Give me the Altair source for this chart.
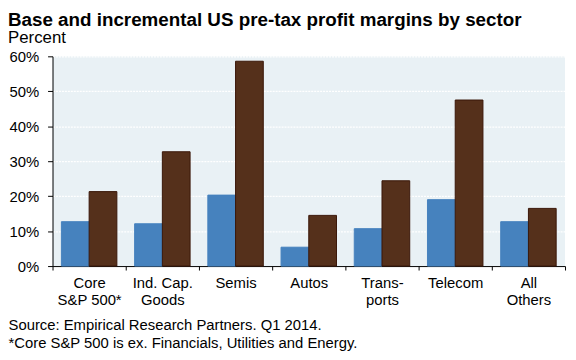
import altair as alt
import pandas as pd

categories = ["Core|S&P 500*", "Ind. Cap.|Goods", "Semis", "Autos", "Trans-|ports", "Telecom", "All|Others"]
base = [12.7, 12.1, 20.3, 5.4, 10.7, 19.0, 12.7]
incremental = [21.3, 32.7, 58.6, 14.5, 24.4, 47.5, 16.5]
series = ["Base", "Incremental"]
colors = ["#4682BE", "#55301B"]
strokes = ["#4682BE", "#3A1608"]

rows = []
for c, b, i in zip(categories, base, incremental):
    rows.append({"cat": c, "series": "Base", "value": b})
    rows.append({"cat": c, "series": "Incremental", "value": i})
df = pd.DataFrame(rows)

chart = alt.Chart(df).mark_bar(strokeWidth=1).encode(
    x=alt.X("cat:N", sort=categories,
            scale=alt.Scale(paddingInner=0, paddingOuter=0),
            axis=alt.Axis(
                title=["Source: Empirical Research Partners. Q1 2014.",
                       "*Core S&P 500 is ex. Financials, Utilities and Energy."],
                titleAnchor="start", titleAlign="left", titleX=-45, titleY=64,
                titleFont="Liberation Sans", titleFontSize=15, titleFontWeight="normal",
                titleColor="#000000", titleBaseline="alphabetic", titleLineHeight=18,
                labelExpr="split(datum.label, '|')", labelAngle=0,
                labelFont="Liberation Sans", labelFontSize=15, labelColor="#000000",
                labelPadding=6, labelLineHeight=17,
                tickBand="extent", ticks=True, tickSize=4, tickColor="#000000",
                domainColor="#000000", grid=False)),
    xOffset=alt.XOffset("series:N", sort=series,
                        scale=alt.Scale(paddingInner=0, paddingOuter=0.32)),
    y=alt.Y("value:Q", scale=alt.Scale(domain=[0, 60], nice=False),
            axis=alt.Axis(title=None, values=[0, 10, 20, 30, 40, 50, 60],
                          labelExpr="datum.value + '%'",
                          labelFont="Liberation Sans", labelFontSize=15, labelColor="#000000",
                          labelPadding=9, tickSize=5, tickColor="#000000",
                          domainColor="#000000", gridColor="#FFFFFF", gridWidth=1.2,
                          gridDash=[2, 1])),
    color=alt.Color("series:N", scale=alt.Scale(domain=series, range=colors), legend=None),
    stroke=alt.Stroke("series:N", scale=alt.Scale(domain=series, range=strokes), legend=None),
).properties(
    width=518, height=212,
    autosize=alt.AutoSizeParams(type="none"),
    padding={"left": 45, "top": 47, "right": 3, "bottom": 85},
    title=alt.TitleParams(
        "Base and incremental US pre-tax profit margins by sector",
        subtitle="Percent",
        anchor="start", frame="group", dx=-45, offset=3,
        font="Liberation Sans", fontSize=19, fontWeight="bold", color="#000000",
        subtitleFont="Liberation Sans", subtitleFontSize=17, subtitleColor="#000000",
        subtitlePadding=1),
).configure_view(fill="#E9F1F5", stroke=None)

chart.save("out.html", embed_options={"renderer": "svg", "actions": False})
